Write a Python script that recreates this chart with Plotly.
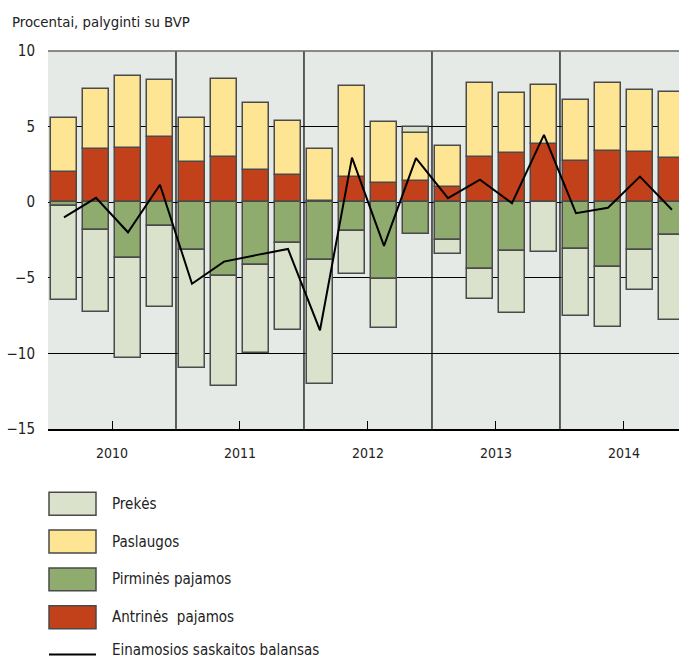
import plotly.graph_objects as go

years = ["2010", "2011", "2012", "2013", "2014"]
quarters = list(range(20))

prekes = [-6.28, -5.39, -6.66, -5.35, -7.83, -7.28, -5.82, -5.73, -8.18, -2.86,
          -3.21, 0.36, -0.91, -1.99, -4.09, -3.29, -4.45, -3.98, -2.63, -5.64]
paslaugos = [3.57, 3.98, 4.76, 3.74, 2.97, 5.15, 4.43, 3.59, 3.41, 6.02,
             4.02, 3.23, 2.74, 4.89, 4.01, 3.87, 4.07, 4.49, 4.11, 4.40]
pirmines = [-0.22, -1.86, -3.67, -1.59, -3.14, -4.88, -4.13, -2.70, -3.85, -1.92,
            -5.08, -2.12, -2.52, -4.44, -3.25, None, -3.09, -4.29, -3.18, -2.14]
antrines = [2.00, 3.50, 3.58, 4.34, 2.63, 3.01, 2.10, 1.79, 0.09, 1.68,
            1.29, 1.37, 1.00, 2.97, 3.23, 3.87, 2.72, 3.41, 3.32, 2.90]
balansas = [-1.00, 0.29, -1.99, 1.15, -5.39, -3.93, -3.50, -3.09, -8.47, 2.95,
            -2.89, 2.92, 0.27, 1.49, -0.06, 4.45, -0.73, -0.37, 1.69, -0.50]

names = ["Prekės", "Paslaugos", "Pirminės pajamos", "Antrinės  pajamos",
         "Einamosios saskaitos balansas"]
c_prek = "#dae2cb"
c_pasl = "#fee594"
c_pirm = "#8fab6e"
c_antr = "#c2411b"
edge = "#4a4a4a"

FONT = "DejaVu Sans Condensed, Liberation Sans Narrow, sans-serif"

fig = go.Figure()
bw = 0.84
for vals, col, nm in [(antrines, c_antr, names[3]), (pirmines, c_pirm, names[2]),
                      (paslaugos, c_pasl, names[1]), (prekes, c_prek, names[0])]:
    fig.add_trace(go.Bar(x=quarters, y=vals, name=nm, width=bw,
                         marker=dict(color=col, line=dict(color=edge, width=1.5))))
fig.add_trace(go.Scatter(x=quarters, y=balansas, mode="lines", name=names[4],
                         line=dict(color="black", width=2)))

# year separators
for xs in [3.5, 7.5, 11.5, 15.5]:
    fig.add_shape(type="line", x0=xs, x1=xs, y0=-15, y1=10, xref="x", yref="y",
                  line=dict(color="black", width=1.2), layer="below")

W, H = 679, 662
L, T, Bpx = 48, 51, 429.3
fig.update_layout(
    width=W, height=H, barmode="relative", bargap=0,
    margin=dict(l=L, r=0, t=T, b=H - Bpx, pad=0),
    plot_bgcolor="#e5eae7", paper_bgcolor="white",
    showlegend=False,
    font=dict(family=FONT, size=15, color="#222"),
)
fig.update_xaxes(range=[-0.5, 19.22], tickvals=[1.5, 5.5, 9.5, 13.5, 17.5],
                 ticktext=years, ticks="inside", ticklen=8, tickcolor="black",
                 showgrid=False, zeroline=False, showline=True, linecolor="black",
                 linewidth=1.5, ticklabelstandoff=10, tickfont=dict(size=14))
fig.update_yaxes(range=[-15, 10], tickvals=[-15, -10, -5, 0, 5, 10],
                 showgrid=True, gridcolor="black", gridwidth=1.2, zeroline=False,
                 showline=False, ticks="", ticklabelstandoff=12, tickfont=dict(size=15))
# top border
fig.add_shape(type="line", xref="paper", yref="paper", x0=0, x1=1, y0=1, y1=1,
              line=dict(color="#666", width=1.5))

pw, ph = W - L, Bpx - T
def px(x):
    return (x - L) / pw
def py(y):
    return (Bpx - y) / ph

fig.add_annotation(text="Procentai, palyginti su BVP", xref="paper", yref="paper",
                   x=px(10), y=py(21), xanchor="left",
                   yanchor="middle", showarrow=False, font=dict(size=14.8))

# manual legend
rows = [(names[0], c_prek), (names[1], c_pasl), (names[2], c_pirm), (names[3], c_antr)]
y0 = 492.7
step = 37.8
for i, (nm, col) in enumerate(rows):
    yt = y0 + i * step
    fig.add_shape(type="rect", xref="paper", yref="paper", x0=px(49), x1=px(96),
                  y0=py(yt + 23), y1=py(yt), fillcolor=col,
                  line=dict(color=edge, width=1.5))
    fig.add_annotation(text=nm, xref="paper", yref="paper", x=px(110), y=py(yt + 11.5),
                       xanchor="left", yanchor="middle", showarrow=False,
                       font=dict(size=15))
yl = 655
fig.add_shape(type="line", xref="paper", yref="paper", x0=px(49), x1=px(96),
              y0=py(yl), y1=py(yl), line=dict(color="black", width=2))
fig.add_annotation(text=names[4], xref="paper", yref="paper", x=px(110), y=py(650),
                   xanchor="left", yanchor="middle", showarrow=False, font=dict(size=15))

fig.write_html("out.html", config={"displayModeBar": False},
               post_script="document.body.style.margin='0';document.body.style.padding='0';")
